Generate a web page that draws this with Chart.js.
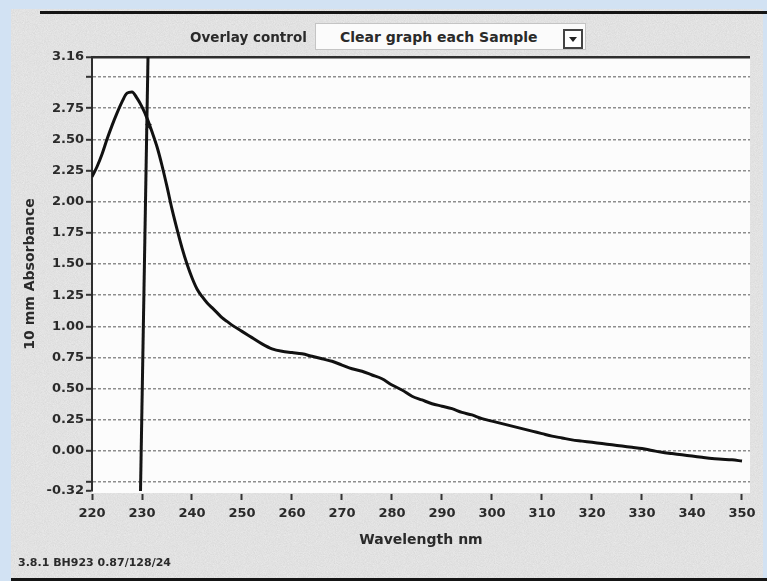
<!DOCTYPE html>
<html>
<head>
<meta charset="utf-8">
<script src="https://cdn.jsdelivr.net/npm/chart.js@4/dist/chart.umd.min.js"></script>
<style>
  html, body { margin: 0; padding: 0; }
  body {
    width: 767px; height: 581px; overflow: hidden; position: relative;
    background: #d2e2f3;
    font-family: "DejaVu Sans", sans-serif;
  }
  #panel {
    position: absolute; left: 11px; top: 9px; width: 752px; height: 572px;
    background-color: #ededed;
    background-image: url("data:image/svg+xml;utf8,<svg xmlns='http://www.w3.org/2000/svg' width='160' height='160'><filter id='n'><feTurbulence type='fractalNoise' baseFrequency='1.1' numOctaves='2' stitchTiles='stitch'/><feColorMatrix values='0 0 0 0 0.35 0 0 0 0 0.35 0 0 0 0 0.35 0 0 0 0.3 0'/></filter><rect width='160' height='160' filter='url(%23n)'/></svg>");
  }
  .bar { position: absolute; background: #151515; }
  #chart { position: absolute; left: 0; top: 0; }
  .txt { position: absolute; color: #2a2a2a; font-weight: bold; white-space: nowrap; }
  #overlayLabel { left: 190px; top: 29px; font-size: 13.5px; }
  #overlayBox {
    position: absolute; left: 315px; top: 23px; width: 271px; height: 27px;
    background: #fbfbfb; border: 1px solid #c4c4c4; box-sizing: border-box;
  }
  #overlayValue { left: 340px; top: 29px; font-size: 14px; }
  #arrowBox {
    position: absolute; left: 563px; top: 29px; width: 20px; height: 20px;
    border: 2px solid #444; box-sizing: border-box; background: #fff;
  }
  #arrowBox::after {
    content: ""; position: absolute; left: 4px; top: 6px;
    border-left: 4px solid transparent; border-right: 4px solid transparent;
    border-top: 5px solid #222;
  }
  #version { left: 18px; top: 556px; font-size: 11px; }
</style>
</head>
<body>
<div id="panel"></div>
<div class="bar" style="left:40px; top:11px; width:727px; height:3px;"></div>
<div class="bar" style="left:11px; top:578px; width:756px; height:3px;"></div>
<canvas id="chart" width="767" height="581"></canvas>
<div class="txt" id="overlayLabel">Overlay control</div>
<div id="overlayBox"></div>
<div class="txt" id="overlayValue">Clear graph each Sample</div>
<div id="arrowBox"></div>
<div class="txt" id="version">3.8.1 BH923 0.87/128/24</div>

<script>
// --- Data ---
const wavelengths = [220, 221, 222, 223, 224, 225, 226, 227, 228, 229,
    230, 231, 232, 233, 234, 235, 236, 237, 238, 239,
    240, 241, 242, 243, 244, 245, 246, 247, 248, 250,
    252, 254, 256, 258, 260, 262, 264, 266, 268, 270,
    272, 274, 276, 278, 280, 282, 284, 286, 288, 290,
    292, 294, 296, 298, 300, 302, 304, 306, 308, 310,
    312, 314, 316, 318, 320, 322, 324, 326, 328, 330,
    332, 334, 336, 338, 340, 342, 344, 346, 348, 350];
const absorbance = [2.20, 2.28, 2.38, 2.50, 2.61, 2.71, 2.80, 2.87, 2.88, 2.83,
    2.76, 2.67, 2.56, 2.44, 2.29, 2.12, 1.94, 1.78, 1.63, 1.50,
    1.39, 1.30, 1.24, 1.19, 1.15, 1.11, 1.07, 1.04, 1.01, 0.96,
    0.91, 0.86, 0.82, 0.80, 0.79, 0.78, 0.76, 0.74, 0.72, 0.69,
    0.66, 0.64, 0.61, 0.58, 0.53, 0.49, 0.44, 0.41, 0.38, 0.36,
    0.34, 0.31, 0.29, 0.26, 0.24, 0.22, 0.20, 0.18, 0.16, 0.14,
    0.12, 0.105, 0.09, 0.08, 0.07, 0.06, 0.05, 0.04, 0.03, 0.02,
    0.005, -0.01, -0.02, -0.03, -0.04, -0.05, -0.06, -0.065, -0.07, -0.08];

// cursor line (slightly tilted in the photo) and cursor marker
const cursorNm = [231.2, 229.7];
const cursorAbs = [3.16, -0.32];
const markerNm = [231.3];
const markerAbs = [2.60];

const xTickValues = [220, 230, 240, 250, 260, 270, 280, 290, 300, 310, 320, 330, 340, 350];
const yTickValues = [-0.32, -0.25, 0, 0.25, 0.5, 0.75, 1, 1.25, 1.5, 1.75, 2, 2.25, 2.5, 2.75, 3, 3.16];
const yTickLabels = ['-0.32', '', '0.00', '0.25', '0.50', '0.75', '1.00', '1.25', '1.50', '1.75',
    '2.00', '2.25', '2.50', '2.75', '', '3.16'];

const xMin = 220, xMax = 351.6, yMin = -0.32, yMax = 3.16;

const toPoints = (xs, ys) => xs.map((x, i) => ({ x: x, y: ys[i] }));

// white plotting field behind the grid
const plotBackground = {
    id: 'plotBackground',
    beforeDraw(chart) {
        const { ctx, chartArea } = chart;
        ctx.save();
        ctx.fillStyle = '#fcfcfc';
        ctx.fillRect(chartArea.left, chartArea.top, chartArea.right - chartArea.left, chartArea.bottom - chartArea.top + 2);
        ctx.restore();
    }
};

const FONT = "'DejaVu Sans', sans-serif";
const INK = '#2a2a2a';

new Chart(document.getElementById('chart'), {
    type: 'line',
    data: {
        datasets: [{
            data: toPoints(wavelengths, absorbance),
            borderColor: '#111',
            borderWidth: 3,
            pointRadius: 0,
            cubicInterpolationMode: 'monotone'
        }, {
            data: toPoints(cursorNm, cursorAbs),
            borderColor: '#151515',
            borderWidth: 3,
            pointRadius: 0
        }, {
            data: toPoints(markerNm, markerAbs),
            showLine: false,
            pointStyle: 'crossRot',
            pointRadius: 4,
            borderColor: '#333',
            borderWidth: 1.5
        }]
    },
    options: {
        responsive: false,
        animation: false,
        layout: { padding: { left: 12, right: 17, top: 57, bottom: 32 } },
        plugins: { legend: { display: false }, tooltip: { enabled: false } },
        scales: {
            x: {
                type: 'linear',
                min: xMin, max: xMax,
                afterBuildTicks: (axis) => { axis.ticks = xTickValues.map(v => ({ value: v })); },
                afterFit: (scale) => { scale.height = 58; },
                border: { display: false },
                grid: {
                    drawOnChartArea: false,
                    tickLength: 9,
                    tickWidth: 2,
                    tickColor: '#333',
                    tickBorderDash: [0, 3, 6]
                },
                ticks: {
                    padding: 6,
                    color: INK,
                    maxRotation: 0,
                    font: { family: FONT, size: 13, weight: 'bold' },
                    callback: (v) => String(v)
                },
                title: {
                    display: true,
                    text: 'Wavelength nm',
                    color: INK,
                    padding: { top: 4, bottom: 0 },
                    font: { family: FONT, size: 14, weight: 'bold' }
                }
            },
            y: {
                min: yMin, max: yMax,
                afterBuildTicks: (axis) => { axis.ticks = yTickValues.map(v => ({ value: v })); },
                afterFit: (scale) => { scale.width = 80; },
                border: {
                    display: true, color: '#2e2e2e', width: 2,
                    dash: (c) => (c.tick && c.tick.value !== yMax) ? [3, 2] : []
                },
                grid: {
                    color: (c) => {
                        if (!c.tick) return '#8d8d8d';
                        if (c.tick.value === yMax) return '#2e2e2e';
                        if (c.tick.value === yMin) return 'rgba(0,0,0,0)';
                        return '#8d8d8d';
                    },
                    lineWidth: (c) => (c.tick && c.tick.value === yMax) ? 2.5 : 1.6,
                    tickLength: 6,
                    tickWidth: 2,
                    tickColor: '#333',
                    tickBorderDash: []
                },
                ticks: {
                    padding: 2,
                    color: INK,
                    font: { family: FONT, size: 13, weight: 'bold' },
                    callback: (v, i) => yTickLabels[i]
                },
                title: {
                    display: true,
                    text: '10 mm Absorbance',
                    color: INK,
                    padding: { top: 10, bottom: 0 },
                    font: { family: FONT, size: 14, weight: 'bold' }
                }
            }
        }
    },
    plugins: [plotBackground]
});
</script>
</body>
</html>
